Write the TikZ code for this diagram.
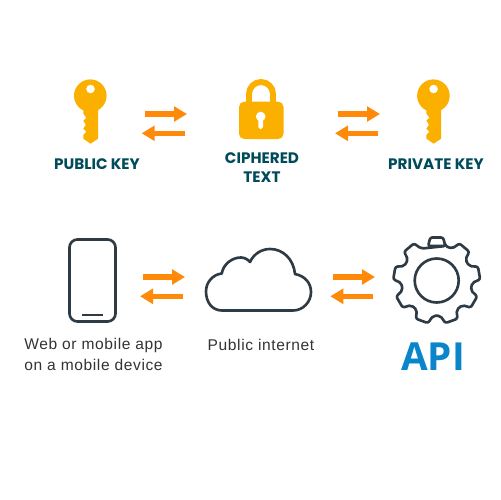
\documentclass[tikz,border=0pt]{standalone}
\usepackage{fontspec}
\setmainfont{Liberation Sans}
\newfontfamily\headfont{Poppins}
\newfontfamily\bodyfont[LetterSpace=4]{Liberation Sans}
\newfontfamily\apifont{Open Sans}
\usetikzlibrary{arrows.meta}
\definecolor{keyyellow}{HTML}{FBB000}
\definecolor{arroworange}{HTML}{FF8A0A}
\definecolor{headteal}{HTML}{004B5B}
\definecolor{iconink}{HTML}{2F3B44}
\definecolor{apiblue}{HTML}{0A85CC}
\tikzset{
  headlabel/.style={font=\headfont\bfseries\fontsize{8.65}{10.6}\selectfont,text=headteal,align=center,inner sep=0pt},
  bodylabel/.style={font=\bodyfont\fontsize{8.85}{11.6}\selectfont,text=black!80,align=center,inner sep=0pt},
  iconline/.style={draw=iconink,line width=1.5pt,line join=round},
  flow/.style={draw=arroworange,line width=2.9pt,-{Triangle[length=7.4pt,width=8.4pt]}},
  keyshape/.pic={
    \fill[keyyellow,even odd rule] (0,0) circle (16.3)
      (0.2,-6.7) circle (4.4);
    \fill[keyyellow] (-7,8) -- (-7,18) -- (-4,22) -- (-7,25) -- (-4.5,29) -- (-7,33) -- (-4,36) -- (-7,39) -- (-7,43) -- (0.3,48) -- (7.7,43) -- (7.7,8) -- cycle;
  }
}
\begin{document}
\begin{tikzpicture}[x=0.02cm,y=-0.02cm]
\useasboundingbox (0,0) rectangle (500,500);
\fill[white] (0,0) rectangle (500,500);
% keys
\pic at (90.3,95.7) {keyshape};
\pic at (433.4,95.7) {keyshape};
% lock
\draw[keyyellow,line width=3.4pt] (249,106) -- (249,94) .. controls (249,87.4) and (254.4,82) .. (261,82) .. controls (267.6,82) and (273,87.4) .. (273,94) -- (273,106);
\fill[keyyellow,rounded corners=3pt] (239,101.7) rectangle (283.5,139);
\fill[white] (260.7,116.5) circle (4.8);
\fill[white,rounded corners=1pt] (258.4,117) rectangle (263,129);
% connectors
\coordinate (a1s) at (144.7,114); \coordinate (a1e) at (187,114);
\coordinate (a2s) at (185,133.3); \coordinate (a2e) at (141.7,133.3);
\coordinate (a3s) at (337.7,114); \coordinate (a3e) at (380,114);
\coordinate (a4s) at (377.7,133.3); \coordinate (a4e) at (335,133.3);
\coordinate (a5s) at (142.7,277); \coordinate (a5e) at (185,277);
\coordinate (a6s) at (182.7,296.3); \coordinate (a6e) at (140,296.3);
\coordinate (a7s) at (333,277); \coordinate (a7e) at (375,277);
\coordinate (a8s) at (373,296.3); \coordinate (a8e) at (330.3,296.3);
\foreach \s/\e in {a1s/a1e,a2s/a2e,a3s/a3e,a4s/a4e,a5s/a5e,a6s/a6e,a7s/a7e,a8s/a8e}
  \draw[flow] (\s) -- (\e);
% phone
\draw[iconline,rounded corners=4.5pt] (69.5,239.5) rectangle (115.5,321.5);
\draw[iconink,line width=1pt] (82,315.3) -- (103.3,315.3);
% cloud
\draw[iconline] (222,310.5) .. controls (212,310.5) and (206,302) .. (206,291.5)
  .. controls (206,282) and (213,274.5) .. (221.7,273.5)
  .. controls (223.5,264) and (232,257.5) .. (241,257.5)
  .. controls (244.5,257.5) and (248,259.5) .. (250,262)
  .. controls (254,253.5) and (262,249) .. (270,249)
  .. controls (283,249) and (293.5,259) .. (295,274)
  .. controls (305,276) and (311,283) .. (311,292)
  .. controls (311,302) and (303,310.5) .. (293,310.5) -- cycle;
% gear
\begin{scope}[shift={(436.7,280.5)}]
\draw[iconline,rounded corners=1.2pt] (-76:35.5)
  \foreach \k in {0,...,8}{
    \pgfextra{\pgfmathsetmacro{\ang}{-90+40*\k}}
    -- ({\ang-14}:35.5) -- ({\ang-8.5}:43.5) -- ({\ang+8.5}:43.5) -- ({\ang+14}:35.5)
  } -- cycle;
\draw[iconline] (0,0) circle (22);
\end{scope}
% labels
\node[headlabel] (pub) at (97,164.5) {PUBLIC KEY};
\node[headlabel] (cip) at (262,167.5) {CIPHERED\\TEXT};
\node[headlabel] (pri) at (436,164.5) {PRIVATE KEY};
\node[bodylabel] (web) at (93.5,354.5) {Web or mobile app\\on a mobile device};
\node[bodylabel] (inet) at (261,345) {Public internet};
\node[font=\apifont\bfseries\fontsize{22}{24}\selectfont,text=apiblue,inner sep=0pt] (api) at (433,356.5) {API};
\end{tikzpicture}
\end{document}
